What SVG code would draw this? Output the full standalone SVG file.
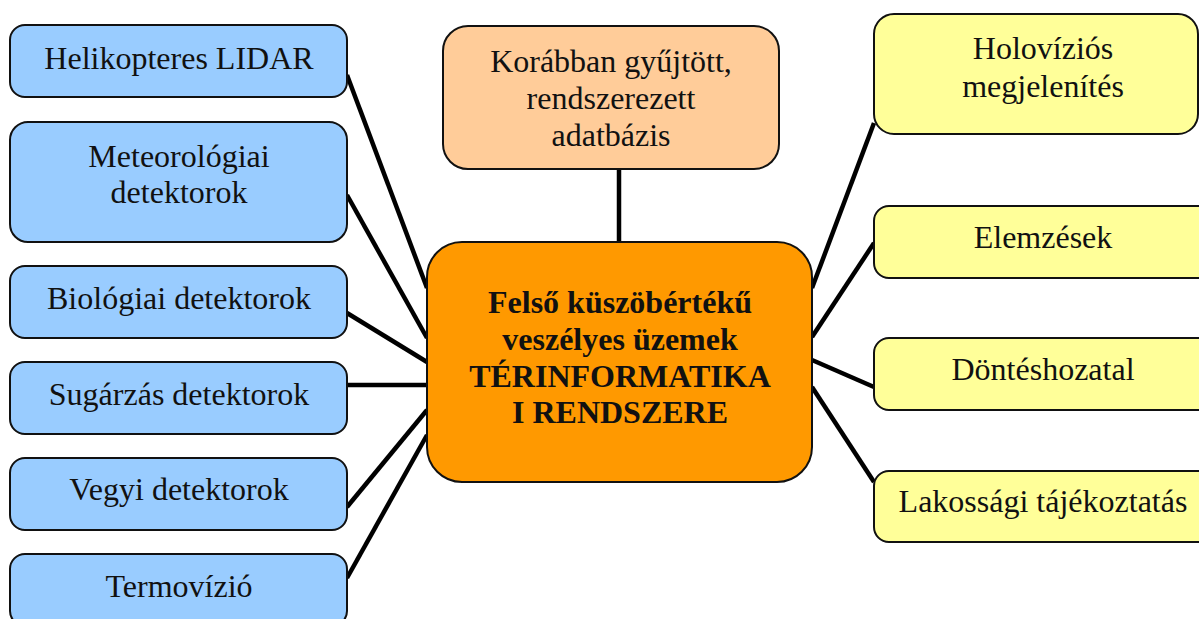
<svg xmlns="http://www.w3.org/2000/svg" width="1199" height="619" viewBox="0 0 1199 619">
  <style>
    .box { stroke: #111; stroke-width: 2; }
    .src { fill: #99CCFF; }
    .db { fill: #FFCC99; }
    .core { fill: #FF9900; }
    .out { fill: #FFFF99; }
    .lbl { font-family: "Liberation Serif", "Times New Roman", serif; font-size: 32px; fill: #111; text-anchor: middle; }
    .bold { font-weight: bold; }
    .links line { stroke: #000; stroke-width: 4.5; stroke-linecap: butt; }
  </style>
  <rect width="1199" height="619" fill="#fff"/>

  <!-- connectors -->
  <g id="connectors" class="links">
    <line x1="619" y1="169" x2="619" y2="242"/>
    <line x1="347" y1="75" x2="427" y2="288"/>
    <line x1="347" y1="195" x2="427" y2="338"/>
    <line x1="347" y1="313" x2="427" y2="362"/>
    <line x1="347" y1="385" x2="427" y2="385"/>
    <line x1="347" y1="507" x2="427" y2="410"/>
    <line x1="347" y1="578" x2="427" y2="435"/>
    <line x1="874" y1="123" x2="812" y2="288"/>
    <line x1="874" y1="243" x2="812" y2="337"/>
    <line x1="812" y1="360" x2="874" y2="387"/>
    <line x1="812" y1="387" x2="874" y2="482"/>
  </g>

  <!-- input sources -->
  <g id="helikopteres-lidar">
    <rect class="box src" x="10" y="25" width="337" height="72" rx="15"/>
    <text class="lbl" x="179" y="69">Helikopteres LIDAR</text>
  </g>
  <g id="meteorologiai-detektorok">
    <rect class="box src" x="10" y="122" width="337" height="120" rx="18"/>
    <text class="lbl" x="179" y="167">Meteorológiai</text>
    <text class="lbl" x="179" y="203">detektorok</text>
  </g>
  <g id="biologiai-detektorok">
    <rect class="box src" x="10" y="266" width="337" height="72" rx="15"/>
    <text class="lbl" x="179" y="309">Biológiai detektorok</text>
  </g>
  <g id="sugarzas-detektorok">
    <rect class="box src" x="10" y="362" width="337" height="72" rx="15"/>
    <text class="lbl" x="179" y="405">Sugárzás detektorok</text>
  </g>
  <g id="vegyi-detektorok">
    <rect class="box src" x="10" y="458" width="337" height="72" rx="15"/>
    <text class="lbl" x="179" y="500">Vegyi detektorok</text>
  </g>
  <g id="termovizio">
    <rect class="box src" x="10" y="554" width="337" height="72" rx="15"/>
    <text class="lbl" x="179" y="597">Termovízió</text>
  </g>

  <!-- database -->
  <g id="adatbazis">
    <rect class="box db" x="443" y="26" width="336" height="143" rx="25"/>
    <text class="lbl" x="611" y="72">Korábban gyűjtött,</text>
    <text class="lbl" x="611" y="109">rendszerezett</text>
    <text class="lbl" x="611" y="146">adatbázis</text>
  </g>

  <!-- central system -->
  <g id="terinformatikai-rendszer">
    <rect class="box core" x="427" y="242" width="385" height="240" rx="35"/>
    <text class="lbl bold" x="620" y="313">Felső küszöbértékű</text>
    <text class="lbl bold" x="620" y="350">veszélyes üzemek</text>
    <text class="lbl bold" x="620" y="387">TÉRINFORMATIKA</text>
    <text class="lbl bold" x="620" y="423">I RENDSZERE</text>
  </g>

  <!-- outputs -->
  <g id="holovizios-megjelenites">
    <rect class="box out" x="874" y="14" width="324" height="120" rx="20"/>
    <text class="lbl" x="1043" y="59">Holovíziós</text>
    <text class="lbl" x="1043" y="97">megjelenítés</text>
  </g>
  <g id="elemzesek">
    <rect class="box out" x="874" y="206" width="340" height="72" rx="15"/>
    <text class="lbl" x="1043" y="248">Elemzések</text>
  </g>
  <g id="donteshozatal">
    <rect class="box out" x="874" y="338" width="340" height="72" rx="15"/>
    <text class="lbl" x="1043" y="380">Döntéshozatal</text>
  </g>
  <g id="lakossagi-tajekoztatas">
    <rect class="box out" x="874" y="471" width="340" height="71" rx="15"/>
    <text class="lbl" x="1043" y="512">Lakossági tájékoztatás</text>
  </g>
</svg>
